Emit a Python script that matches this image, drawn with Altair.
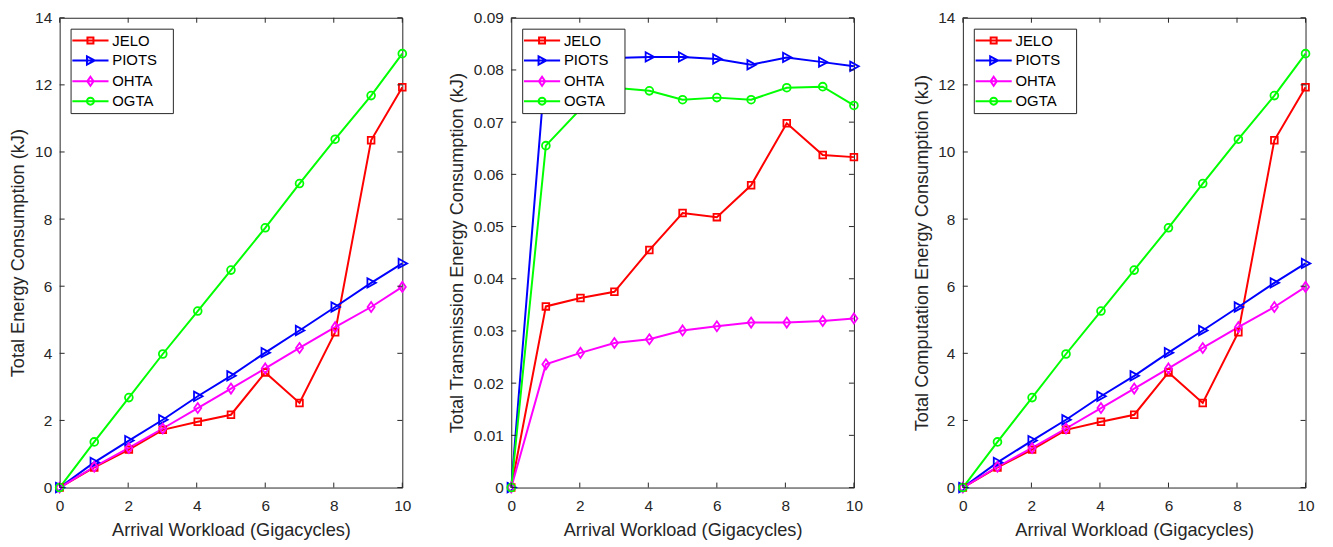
import altair as alt
import pandas as pd

# ---------------- data ----------------
series = ["JELO", "PIOTS", "OHTA", "OGTA"]
colors = ["#FF0000", "#0000FF", "#FF00FF", "#00FF00"]
workload = [0, 1.01, 2.02, 3.01, 4.03, 5.0, 6.0, 7.0, 8.04, 9.09, 10.0]

total_jelo = [0, 0.60, 1.13, 1.72, 1.96, 2.17, 3.43, 2.52, 4.63, 10.35, 11.93]
total_piots = [0, 0.75, 1.40, 2.02, 2.72, 3.33, 4.02, 4.68, 5.38, 6.10, 6.68]
total_ohta = [0, 0.62, 1.18, 1.76, 2.37, 2.95, 3.55, 4.16, 4.78, 5.38, 5.98]
total_ogta = [0, 1.36, 2.68, 3.98, 5.26, 6.48, 7.74, 9.06, 10.38, 11.68, 12.93]

trans_jelo = [0, 0.0347, 0.0363, 0.0375, 0.0455, 0.0526, 0.0518, 0.0579, 0.0698, 0.0637, 0.0633]
trans_piots = [0, 0.0815, 0.0821, 0.0823, 0.0825, 0.0825, 0.0821, 0.0810, 0.0824, 0.0815, 0.0807]
trans_ohta = [0, 0.0236, 0.0258, 0.0277, 0.0284, 0.0301, 0.0309, 0.0316, 0.0316, 0.0319, 0.0324]
trans_ogta = [0, 0.0655, 0.0725, 0.0766, 0.0760, 0.0743, 0.0747, 0.0743, 0.0766, 0.0768, 0.0732]

comp_jelo = [0, 0.60, 1.13, 1.72, 1.96, 2.17, 3.43, 2.52, 4.63, 10.35, 11.93]
comp_piots = [0, 0.75, 1.40, 2.02, 2.72, 3.33, 4.02, 4.68, 5.38, 6.10, 6.68]
comp_ohta = [0, 0.62, 1.18, 1.76, 2.37, 2.95, 3.55, 4.16, 4.78, 5.38, 5.98]
comp_ogta = [0, 1.36, 2.68, 3.98, 5.26, 6.48, 7.74, 9.06, 10.38, 11.68, 12.93]

x_ticks = [0, 2, 4, 6, 8, 10]
energy_ticks = [0, 2, 4, 6, 8, 10, 12, 14]
trans_ticks = [0, 0.01, 0.02, 0.03, 0.04, 0.05, 0.06, 0.07, 0.08, 0.09]

x_title = "Arrival Workload (Gigacycles)"
titles = [
    "Total Energy Consumption (kJ)",
    "Total Transmission Energy Consumption (kJ)",
    "Total Computation Energy Consumption (kJ)",
]

# ---------------- styling ----------------
W, H = 345, 473
TICK = 5
AX = "#262626"
FONT = "Liberation Sans"
BLANK = "\u2800"  # blank glyph (not trimmed like whitespace) to widen the legend box

marker_paths = [
    "M-0.9,-0.9H0.9V0.9H-0.9Z",
    "M-1,-1.25L1.3,0L-1,1.25Z",
    "M0,-1.35L0.95,0L0,1.35L-0.95,0Z",
    "M-1.05,0A1.05,1.05,0,1,1,1.05,0A1.05,1.05,0,1,1,-1.05,0Z",
]
legend_paths = [
    "M-2.6,0H2.6M-0.43,-0.43H0.43V0.43H-0.43Z",
    "M-2.6,0H2.6M-0.5,-0.6L0.62,0L-0.5,0.6Z",
    "M-2.6,0H2.6M0,-0.65L0.45,0L0,0.65L-0.45,0Z",
    "M-2.6,0H2.6M-0.5,0A0.5,0.5,0,1,1,0.5,0A0.5,0.5,0,1,1,-0.5,0Z",
]


def make_df(cols):
    rows = []
    for name, vals in zip(series, cols):
        for xv, yv in zip(workload, vals):
            rows.append({"x": xv, "y": yv, "series": name})
    return pd.DataFrame(rows)


def panel(cols, ytitle, yticks, ymax, extent, fmt):
    df = make_df(cols)
    xs = alt.Scale(domain=[0, 10], nice=False, zero=False)
    ys = alt.Scale(domain=[0, ymax], nice=False, zero=False)
    xaxis = alt.Axis(values=x_ticks, title=x_title, labelPadding=11, titlePadding=8,
                     labelFlush=False)
    yaxis = alt.Axis(values=yticks, title=ytitle, format=fmt, labelPadding=8,
                     titlePadding=7, minExtent=extent, maxExtent=extent, labelFlush=False)
    cscale = alt.Scale(domain=series, range=colors)
    leg = alt.Legend(
        title=None, orient="top-left", offset=11, padding=4,
        strokeColor=AX, fillColor="white", cornerRadius=0,
        symbolOffset=8, labelOffset=14, rowPadding=3,
        symbolSize=196, symbolStrokeWidth=2,
        labelFont=FONT, labelFontSize=15, labelColor="#000000",
        labelExpr="datum.label + '" + BLANK + "'",
    )
    base = alt.Chart(df)
    X = alt.X("x:Q", scale=xs, axis=xaxis)
    Y = alt.Y("y:Q", scale=ys, axis=yaxis)
    lines = base.mark_line(strokeWidth=2).encode(
        x=X, y=Y, color=alt.Color("series:N", scale=cscale, legend=None),
        order="x:Q",
    )
    points = base.mark_point(filled=False, strokeWidth=1.8, size=56, opacity=1).encode(
        x=X, y=Y,
        color=alt.Color("series:N", scale=cscale, legend=None),
        shape=alt.Shape("series:N", scale=alt.Scale(domain=series, range=marker_paths), legend=None),
    )
    legend_layer = base.mark_point(filled=False, strokeWidth=2, size=196, opacity=0).encode(
        x=X, y=Y,
        color=alt.Color("series:N", scale=cscale, legend=leg),
        shape=alt.Shape("series:N", scale=alt.Scale(domain=series, range=legend_paths), legend=leg),
    )
    ytd = alt.Chart(pd.DataFrame({"t": yticks}))
    xtd = alt.Chart(pd.DataFrame({"t": x_ticks}))
    YT = alt.Y("t:Q", scale=ys, axis=yaxis)
    XT = alt.X("t:Q", scale=xs, axis=xaxis)
    yl = ytd.mark_rule(color=AX, strokeWidth=1).encode(
        y=YT, x=alt.value(0), x2=alt.value(TICK))
    yr = ytd.mark_rule(color=AX, strokeWidth=1).encode(
        y=YT, x=alt.value(W - TICK), x2=alt.value(W))
    xb = xtd.mark_rule(color=AX, strokeWidth=1).encode(
        x=XT, y=alt.value(H), y2=alt.value(H - TICK))
    xt = xtd.mark_rule(color=AX, strokeWidth=1).encode(
        x=XT, y=alt.value(0), y2=alt.value(TICK))
    return alt.layer(lines, points, legend_layer, yl, yr, xb, xt).resolve_scale(
        color="independent", shape="independent"
    ).properties(width=W, height=H)


p1 = panel([total_jelo, total_piots, total_ohta, total_ogta], titles[0], energy_ticks, 14, 25, "~g")
p2 = panel([trans_jelo, trans_piots, trans_ohta, trans_ogta], titles[1], trans_ticks, 0.09, 38.5, "~g")
p3 = panel([comp_jelo, comp_piots, comp_ohta, comp_ogta], titles[2], energy_ticks, 14, 25, "~g")

chart = alt.hconcat(p1, p2, p3, spacing=109.7, bounds="flush").properties(
    padding={"left": 0, "top": 0, "right": 0, "bottom": 0}
).configure(font=FONT).configure_view(
    stroke=AX, strokeWidth=1
).configure_axis(
    domain=False, ticks=False, grid=False,
    labelFont=FONT, labelFontSize=15.5, labelColor=AX,
    titleFont=FONT, titleFontSize=18.3, titleFontWeight="normal", titleColor=AX,
)

chart.save("out.html", embed_options={"renderer": "svg", "actions": False})
